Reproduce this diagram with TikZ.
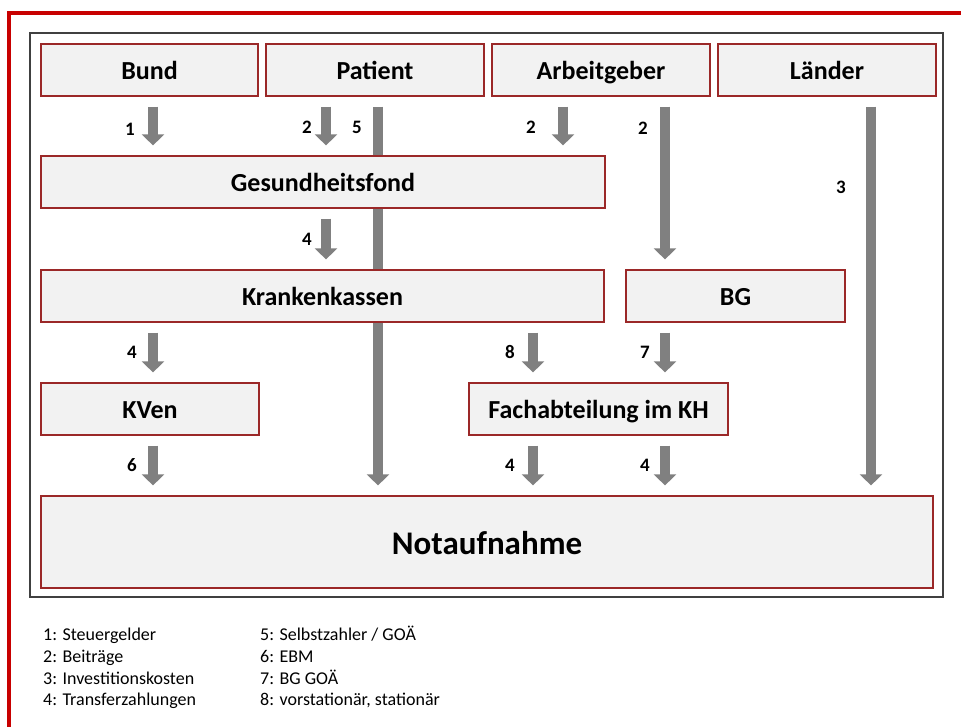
\documentclass[tikz,border=0pt]{standalone}
\usepackage{fontspec}
\setmainfont{Carlito}
\usetikzlibrary{arrows.meta,calc,backgrounds}
\definecolor{boxred}{RGB}{155,40,40}
\definecolor{framered}{RGB}{200,0,0}
\definecolor{boxfill}{RGB}{242,242,242}
\definecolor{arrowgray}{RGB}{128,128,128}
\begin{document}
\begin{tikzpicture}[x=1pt,y=-1pt,
  box/.style={draw=boxred, line width=1.2pt, fill=boxfill, minimum height=52pt, inner sep=0pt, font=\fontsize{26}{30}\selectfont\bfseries, text=black, text height=19pt, text depth=0pt},
  flow/.style={draw=arrowgray, line width=10pt, -{Triangle[width=22pt,length=11pt]}, shorten <=10pt, shorten >=10pt},
  num/.style={font=\fontsize{19}{22}\selectfont\bfseries, inner sep=0pt, text height=13pt, text depth=0pt},
  legend/.style={font=\fontsize{18}{22}\selectfont, anchor=west, inner sep=0pt, text height=12pt, text depth=4pt}]
\useasboundingbox (0,0) rectangle (961,727);
\draw[framered, line width=3.5pt] (9,727) -- (9,13) -- (961,13);
\draw[black!75, line width=1.3pt] (30,33) rectangle (943,597);
% boxes
\node[box, minimum width=217pt] (bund) at (149.5,70) {Bund};
\node[box, minimum width=218pt] (patient) at (375,70) {Patient};
\node[box, minimum width=218pt] (arbeit) at (601,70) {Arbeitgeber};
\node[box, minimum width=218pt] (laender) at (827,70) {Länder};
\node[box, minimum width=564pt] (gf) at (323,182) {Gesundheitsfond};
\node[box, minimum width=563pt] (kk) at (322.5,296) {Krankenkassen};
\node[box, minimum width=219pt] (bg) at (735.5,296) {BG};
\node[box, minimum width=218pt] (kven) at (150,409) {KVen};
\node[box, minimum width=259pt] (fach) at (598.5,409) {Fachabteilung im KH};
\node[box, minimum width=892pt, minimum height=92pt, font=\fontsize{33}{38}\selectfont\bfseries, text height=24pt, text depth=0pt] (nota) at (487,542) {Notaufnahme};
% arrow columns
\coordinate (xa) at (153,0);
\coordinate (xb) at (326,0);
\coordinate (xc) at (378,0);
\coordinate (xd) at (563,0);
\coordinate (xe) at (665,0);
\coordinate (xf) at (871,0);
\coordinate (xg) at (533,0);
\begin{scope}[on background layer]
\draw[flow] (patient.south -| xc) -- (nota.north -| xc);
\end{scope}
\draw[flow] (bund.south -| xa) -- (gf.north -| xa);
\draw[flow] (patient.south -| xb) -- (gf.north -| xb);
\draw[flow] (arbeit.south -| xd) -- (gf.north -| xd);
\draw[flow] (arbeit.south -| xe) -- (bg.north -| xe);
\draw[flow] (laender.south -| xf) -- (nota.north -| xf);
\draw[flow] (gf.south -| xb) -- (kk.north -| xb);
\draw[flow] (kk.south -| xa) -- (kven.north -| xa);
\draw[flow] (kk.south -| xg) -- (fach.north -| xg);
\draw[flow] (bg.south -| xe) -- (fach.north -| xe);
\draw[flow] (kven.south -| xa) -- (nota.north -| xa);
\draw[flow] (fach.south -| xg) -- (nota.north -| xg);
\draw[flow] (fach.south -| xe) -- (nota.north -| xe);
% labels
\node[num] (l1) at (130,129) {1};
\node[num] (l2a) at (307,127) {2};
\node[num] (l5) at (357,127) {5};
\node[num] (l2b) at (531,127) {2};
\node[num] (l2c) at (643,128) {2};
\node[num] (l3) at (841,187) {3};
\node[num] (l4a) at (307,239) {4};
\node[num] (l4b) at (132,352) {4};
\node[num] (l8) at (510,352) {8};
\node[num] (l7) at (645,352) {7};
\node[num] (l6) at (132,465) {6};
\node[num] (l4c) at (510,465) {4};
\node[num] (l4d) at (645,465) {4};
% legend
\node[legend] (g1) at (43,636) {1: Steuergelder};
\node[legend] (g2) at (43,658) {2: Beiträge};
\node[legend] (g3) at (43,680) {3: Investitionskosten};
\node[legend] (g4) at (43,701) {4: Transferzahlungen};
\node[legend] (g5) at (260,636) {5: Selbstzahler / GOÄ};
\node[legend] (g6) at (260,658) {6: EBM};
\node[legend] (g7) at (260,680) {7: BG GOÄ};
\node[legend] (g8) at (260,701) {8: vorstationär, stationär};
\end{tikzpicture}
\end{document}
